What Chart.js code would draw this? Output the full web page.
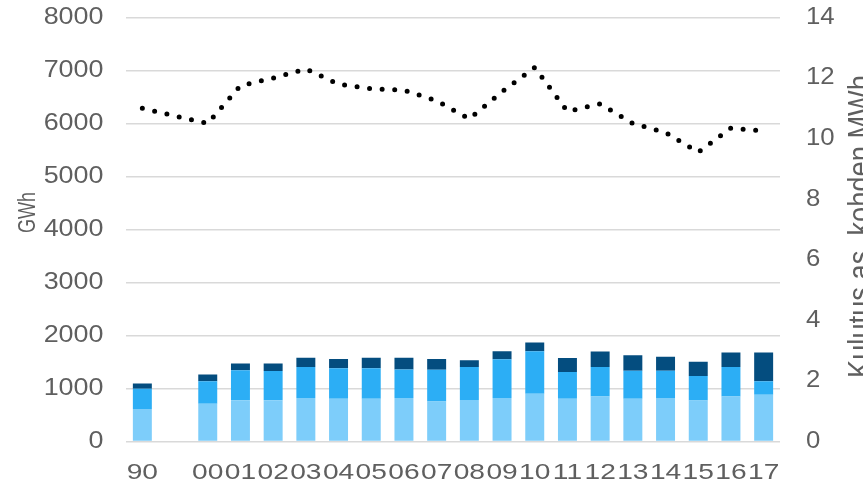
<!DOCTYPE html>
<html lang="fi">
  <head>
    <meta charset="UTF-8" />
    <title>Kulutus</title>
    <style>
      html, body { margin: 0; padding: 0; background: #fff; overflow: hidden; }
      #chart-wrap { width: 863px; height: 486px; }
    </style>
  </head>
  <body>
    <div id="chart-wrap"><canvas id="kulutus_chart" width="863" height="486"></canvas></div>
    <script src="https://cdn.jsdelivr.net/npm/chart.js@4/dist/chart.umd.min.js"></script>
    <script>
      // vuodet, 90 ja 00 välissä tyhjä sarake
      var years = ["90", "", "00", "01", "02", "03", "04", "05", "06", "07", "08", "09", "10", "11", "12", "13", "14", "15", "16", "17"];

      // GWh, pinotut osat alhaalta ylös
      var part1 = [615, null, 710, 778, 778, 823, 805, 805, 823, 753, 785, 823, 899, 805, 848, 805, 823, 772, 848, 880];
      var part2 = [379, null, 429, 564, 550, 581, 575, 577, 537, 603, 619, 727, 803, 505, 556, 530, 512, 462, 556, 259];
      var part3 = [101, null, 127, 132, 146, 178, 176, 200, 222, 200, 127, 152, 165, 265, 292, 291, 266, 272, 273, 538];

      // MWh per asiakas (oikea akseli)
      var perCustomer = [11.0, null, 10.5, 11.75, 12.0, 12.3, 11.8, 11.65, 11.6, 11.25, 10.65, 11.55, 12.35, 10.9, 11.15, 10.5, 10.2, 9.55, 10.35, 10.25];

      var leftTicks = [0, 1000, 2000, 3000, 4000, 5000, 6000, 7000, 8000];
      var rightTicks = [0, 2, 4, 6, 8, 10, 12, 14];

      var grey = "#5f5f5f";
      var fontName = "'Liberation Sans', Arial, sans-serif";

      // leveähkö teksti: piirretään itse ja venytetään vaakasuunnassa
      function wideText(ctx, text, x, y, size, stretch, align) {
        ctx.save();
        ctx.translate(x, y);
        ctx.scale(stretch, 1);
        ctx.font = size + "px " + fontName;
        ctx.fillStyle = grey;
        ctx.textAlign = align;
        ctx.textBaseline = "middle";
        ctx.fillText(text, 0, 0);
        ctx.restore();
      }

      // pystyteksti alhaalta ylös; koko haetaan pituuden mukaan
      function upText(ctx, text, x, y, length, thick) {
        ctx.save();
        ctx.font = "100px " + fontName;
        var size = 100 * length / ctx.measureText(text).width;
        ctx.translate(x, y);
        ctx.rotate(-Math.PI / 2);
        ctx.scale(1, thick / (0.716 * size));
        ctx.font = size + "px " + fontName;
        ctx.fillStyle = grey;
        ctx.textAlign = "center";
        ctx.textBaseline = "alphabetic";
        ctx.fillText(text, 0, 0);
        ctx.restore();
      }

      var axisText = {
        id: "axisText",
        afterDraw: function (chart) {
          var ctx = chart.ctx;
          var area = chart.chartArea;
          var sx = chart.scales.x, sy = chart.scales.y, sy1 = chart.scales.y1;

          sx.ticks.forEach(function (t, i) {
            wideText(ctx, years[i], sx.getPixelForTick(i), area.bottom + 31.5, 22, 1.28, "center");
          });
          sy.ticks.forEach(function (t) {
            wideText(ctx, String(t.value), area.left - 22.5, sy.getPixelForValue(t.value), 23, 1.17, "right");
          });
          sy1.ticks.forEach(function (t) {
            wideText(ctx, String(t.value), area.right + 26, sy1.getPixelForValue(t.value), 23, 1.12, "left");
          });

          upText(ctx, "GWh", 35, 212.5, 41, 17);
          upText(ctx, "Kulutus as. kohden MWh", 870, 226.5, 303, 22);
        }
      };

      const kulutusChart = new Chart("kulutus_chart", {
        type: "bar",
        data: {
          labels: years,
          datasets: [
            {
              type: "line",
              label: "Kulutus as. kohden",
              data: perCustomer,
              yAxisID: "y1",
              borderColor: "#000",
              borderWidth: 5,
              borderDash: [0, 12.6],
              borderCapStyle: "round",
              pointRadius: 0,
              spanGaps: true,
              tension: 0,
              order: 0
            },
            { label: "osa 1", data: part1, backgroundColor: "#7dcdfa", yAxisID: "y", order: 1 },
            { label: "osa 2", data: part2, backgroundColor: "#2caef5", yAxisID: "y", order: 1 },
            { label: "osa 3", data: part3, backgroundColor: "#044d7f", yAxisID: "y", order: 1 }
          ]
        },
        options: {
          responsive: false,
          animation: false,
          devicePixelRatio: 1,
          categoryPercentage: 1,
          barPercentage: 0.58,
          layout: { padding: { top: 17.5, bottom: 0, left: 0, right: 0 } },
          plugins: {
            legend: { display: false },
            tooltip: { enabled: false }
          },
          scales: {
            x: {
              stacked: true,
              border: { display: false },
              grid: { display: false, drawTicks: false },
              ticks: { display: false, autoSkip: false, maxRotation: 0 },
              afterFit: function (scale) { scale.height = 44.5; }
            },
            y: {
              stacked: true,
              position: "left",
              min: 0,
              max: 8000,
              afterBuildTicks: function (scale) {
                scale.ticks = leftTicks.map(function (v) { return { value: v }; });
              },
              border: { display: false },
              grid: { color: "#d9d9d9", lineWidth: 1.5, drawTicks: false },
              ticks: { display: false },
              afterFit: function (scale) { scale.width = 126; }
            },
            y1: {
              position: "right",
              min: 0,
              max: 14,
              afterBuildTicks: function (scale) {
                scale.ticks = rightTicks.map(function (v) { return { value: v }; });
              },
              border: { display: false },
              grid: { display: false, drawTicks: false },
              ticks: { display: false },
              afterFit: function (scale) { scale.width = 83; }
            }
          }
        },
        plugins: [axisText]
      });
    </script>
  </body>
</html>
